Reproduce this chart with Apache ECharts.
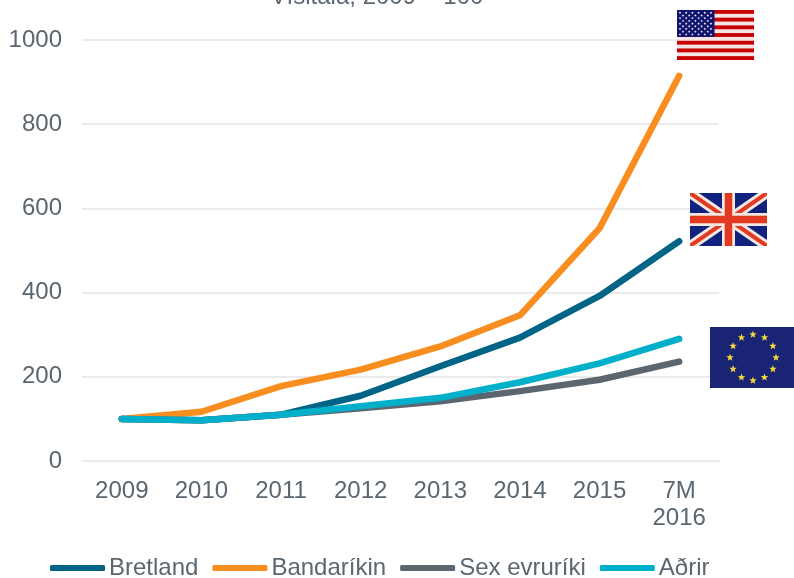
<!DOCTYPE html>
<html><head><meta charset="utf-8">
<style>html,body{margin:0;padding:0;background:#fff}#c{width:794px;height:578px}</style>
<script src="https://cdn.jsdelivr.net/npm/echarts@6/dist/echarts.min.js"></script>
</head><body><div id="c"></div>
<script>
const categories=['2009','2010','2011','2012','2013','2014','2015','7M\n2016'];
const bretland=[100,97,110,155,225,293,392,522];
const bandarikin=[100,117,178,217,272,346,553,915];
const sexEvruriki=[100,97,110,125,142,166,193,236];
const adrir=[100,97,110,130,150,187,232,290];
const yTicks={min:0,max:1000,interval:200};
const names=['Bretland','Bandaríkin','Sex evruríki','Aðrir'];
const colors=['#006487','#F98E20','#5B6670','#00B0CA'];
const font='"Liberation Sans",Arial,sans-serif';
const textColor='#5B6670';

function star(cx,cy,r,fill){let p=[];for(let i=0;i<10;i++){const a=-Math.PI/2+i*Math.PI/5,q=i%2?r*0.42:r;p.push((cx+q*Math.cos(a)).toFixed(2)+','+(cy+q*Math.sin(a)).toFixed(2));}return `<polygon points="${p.join(' ')}" fill="${fill}"/>`;}
function usSvg(){let s='<svg xmlns="http://www.w3.org/2000/svg" width="77" height="50"><rect width="77" height="50" fill="#F4E4E4"/>';
 const h=50/13;for(let i=0;i<13;i+=2)s+=`<rect y="${i*h}" width="77" height="${h}" fill="#C90000"/>`;
 s+=`<rect width="37.5" height="${7*h}" fill="#10146E"/>`;
 for(let r=0;r<9;r++){const n=r%2?5:6;for(let c=0;c<n;c++){s+=star((r%2?6:3)+c*6.2,2.8+r*2.7,1.4,'#fff');}}
 return s+'</svg>';}
function ukSvg(){return '<svg xmlns="http://www.w3.org/2000/svg" width="77" height="53" viewBox="0 0 77 53"><rect width="77" height="53" fill="#10227E"/>'+
 '<path d="M0 0L77 53M77 0L0 53" stroke="#F3E7E2" stroke-width="10"/><path d="M0 0L77 53M77 0L0 53" stroke="#E23A20" stroke-width="4"/>'+
 '<path d="M38.5 0V53M0 26.5H77" stroke="#F3E7E2" stroke-width="13"/><path d="M38.5 0V53M0 26.5H77" stroke="#E23A20" stroke-width="7.5"/></svg>';}
function euSvg(){let s='<svg xmlns="http://www.w3.org/2000/svg" width="84" height="61"><rect width="84" height="61" fill="#1A2474"/>';
 for(let i=0;i<12;i++){const a=i*Math.PI/6;s+=star(43+23*Math.sin(a),30.5-23*Math.cos(a),3.9,'#F5D93A');}
 return s+'</svg>';}
const uri=s=>'data:image/svg+xml;charset=utf-8,'+encodeURIComponent(s);

const chart=echarts.init(document.getElementById('c'),null,{renderer:'canvas'});
chart.setOption({
 animation:false,
 backgroundColor:'#fff',
 title:{text:'Vísitala, 2009 = 100',left:372,top:-20,textAlign:'center',textStyle:{fontFamily:font,fontSize:24,fontWeight:'normal',color:textColor}},
 grid:{left:82,right:75,top:40,bottom:117,containLabel:false},
 xAxis:{type:'category',data:categories,boundaryGap:true,
  axisLine:{show:true,lineStyle:{color:'#EBEBEB',width:2}},axisTick:{show:false},
  axisLabel:{fontFamily:font,fontSize:24,color:textColor,margin:17,lineHeight:27,interval:0}},
 yAxis:{type:'value',min:yTicks.min,max:yTicks.max,interval:yTicks.interval,
  axisLine:{show:false},axisTick:{show:false},
  splitLine:{lineStyle:{color:'#EBEBEB',width:2}},
  axisLabel:{fontFamily:font,fontSize:24,color:textColor,margin:20,padding:[2,0,0,0],formatter:v=>String(v)}},
 legend:{top:556,left:50,itemWidth:55,itemHeight:6,itemGap:14,icon:'roundRect',padding:0,
  data:names,textStyle:{fontFamily:font,fontSize:24,color:textColor,padding:[3,0,0,-1]}},
 series:[
  {name:names[0],data:bretland},{name:names[1],data:bandarikin},
  {name:names[2],data:sexEvruriki},{name:names[3],data:adrir}
 ].map((s,i)=>({...s,type:'line',symbol:'none',smooth:false,color:colors[i],
   lineStyle:{color:colors[i],width:6.5,cap:'round',join:'round'}})),
 graphic:[
  {type:'image',z:100,left:677,top:10,style:{image:uri(usSvg()),width:77,height:50}},
  {type:'image',z:100,left:690,top:193,style:{image:uri(ukSvg()),width:77,height:53}},
  {type:'image',z:100,left:710,top:327,style:{image:uri(euSvg()),width:84,height:61}}
 ]
});
</script></body></html>
